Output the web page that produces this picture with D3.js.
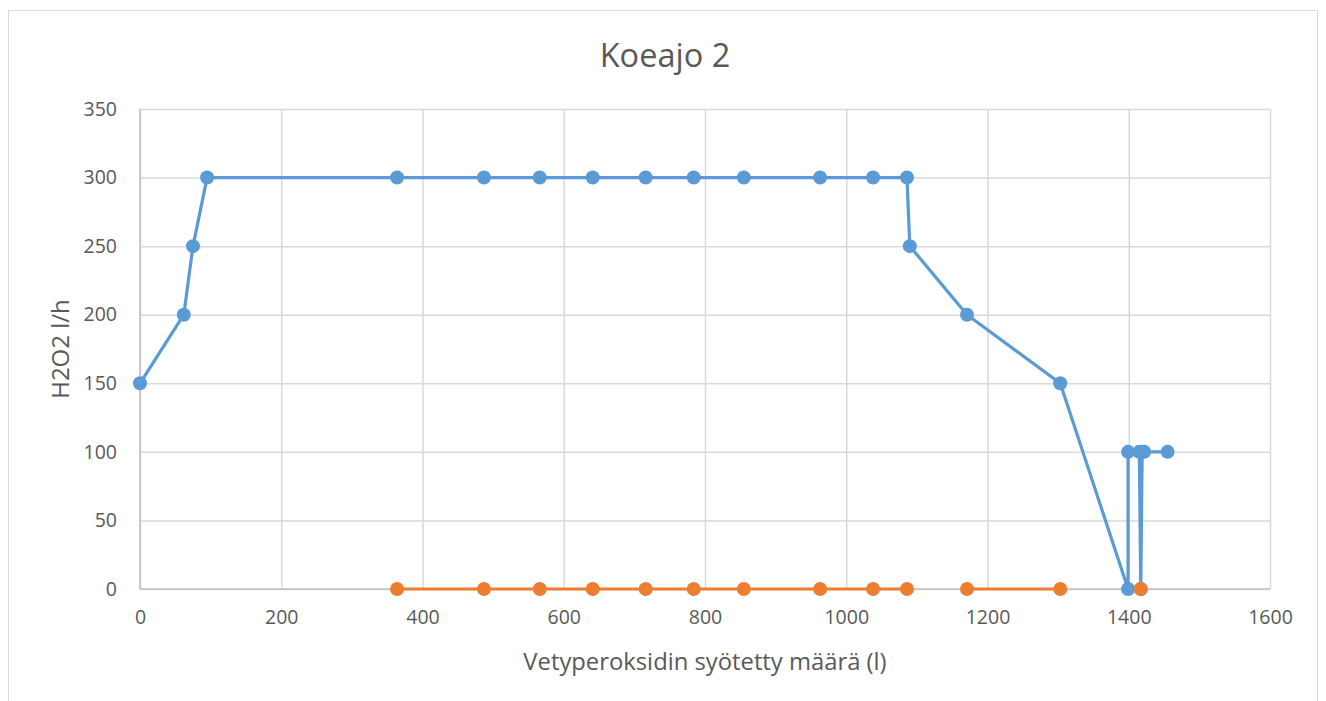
<!DOCTYPE html>
<html><head><meta charset="utf-8">
<script src="https://cdn.jsdelivr.net/npm/d3@7"></script>
<style>body{margin:0;background:#fff;}svg{display:block;font-family:"Open Sans",sans-serif;}</style>
</head><body>
<svg id="c" width="1326" height="701"></svg>
<script>
const title = "Koeajo 2";
const xTitle = "Vetyperoksidin syötetty määrä (l)";
const yTitle = "H2O2 l/h";
const xValues = [0,62,75,95,364,487,566,641,716,784,855,963,1038,1086,1090,1171,1303,1399,1399,1415,1417,1419,1422,1455];
const blueValues = [150,200,250,300,300,300,300,300,300,300,300,300,300,300,250,200,150,0,100,100,0,100,100,100];
const orangeValues = [null,null,null,null,0,0,0,0,0,0,0,0,0,0,null,0,0,null,null,null,0,null,null,null];
const xTicks = [0,200,400,600,800,1000,1200,1400,1600];
const yTicks = [0,50,100,150,200,250,300,350];

const svg = d3.select("#c");
const L = 140, R = 1270, T = 109, B = 589;
const x = d3.scaleLinear().domain([0,1600]).range([L,R]);
const y = d3.scaleLinear().domain([0,350]).range([B,T]);
const FONT = "'Open Sans',sans-serif";

svg.append("rect").attr("x",8.5).attr("y",10.5).attr("width",1309).attr("height",720)
  .attr("fill","#fff").attr("stroke","#d9d9d9").attr("stroke-width",1);

svg.append("text").attr("x",665).attr("y",67).attr("text-anchor","middle")
  .attr("font-size",32.5).attr("fill","#595959").text(title);

// gridlines
const gx = svg.append("g").attr("transform",`translate(0,${B})`)
  .call(d3.axisBottom(x).tickValues(xTicks).tickSize(-(B-T)).tickFormat(""));
gx.select(".domain").remove();
gx.selectAll("line").attr("stroke","#d9d9d9").attr("stroke-width",1.5);
const gy = svg.append("g").attr("transform",`translate(${L},0)`)
  .call(d3.axisLeft(y).tickValues(yTicks).tickSize(-(R-L)).tickFormat(""));
gy.select(".domain").remove();
gy.selectAll("line").attr("stroke","#d9d9d9").attr("stroke-width",1.5);

// axis lines
svg.append("line").attr("x1",L).attr("x2",R).attr("y1",B).attr("y2",B).attr("stroke","#bfbfbf").attr("stroke-width",1.5);
svg.append("line").attr("x1",L).attr("x2",L).attr("y1",T).attr("y2",B).attr("stroke","#bfbfbf").attr("stroke-width",1.5);

// tick labels
const ax = svg.append("g").attr("transform",`translate(0,${B})`)
  .call(d3.axisBottom(x).tickValues(xTicks).tickSize(0).tickPadding(21).tickFormat(d3.format("d")));
ax.select(".domain").remove();
ax.selectAll("text").attr("font-size",19.5).attr("fill","#595959").attr("font-family",FONT);
const ay = svg.append("g").attr("transform",`translate(${L},0)`)
  .call(d3.axisLeft(y).tickValues(yTicks).tickSize(0).tickPadding(23).tickFormat(d3.format("d")));
ay.select(".domain").remove();
ay.selectAll("text").attr("font-size",19.5).attr("fill","#595959").attr("font-family",FONT);

svg.append("text").attr("x",705).attr("y",670).attr("text-anchor","middle")
  .attr("font-size",23.8).attr("fill","#595959").text(xTitle);
svg.append("text").attr("transform","translate(69,349) rotate(-90)").attr("text-anchor","middle")
  .attr("font-size",24).attr("fill","#595959").text(yTitle);

function drawSeries(vals, color){
  const pts = xValues.map((xv,i)=>({x:xv,y:vals[i]}));
  const line = d3.line().defined(d=>d.y!==null).x(d=>x(d.x)).y(d=>y(d.y));
  svg.append("path").datum(pts).attr("d",line).attr("fill","none")
    .attr("stroke",color).attr("stroke-width",3.2).attr("stroke-linejoin","round");
  svg.append("g").selectAll("circle").data(pts.filter(d=>d.y!==null)).join("circle")
    .attr("cx",d=>x(d.x)).attr("cy",d=>y(d.y)).attr("r",7).attr("fill",color);
}
drawSeries(blueValues,"#5b9bd5");
drawSeries(orangeValues,"#ed7d31");
</script>
</body></html>
